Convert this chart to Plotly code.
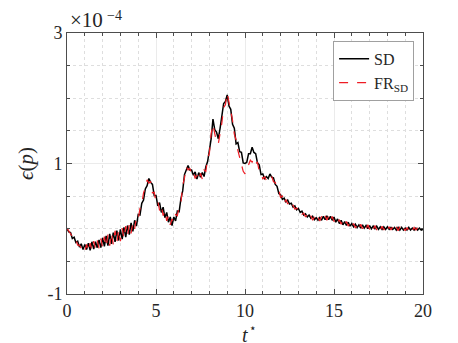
import numpy as np
import plotly.graph_objects as go

# time samples (t*), step 0.1
t = np.round(np.arange(0, 20.01, 0.1), 1)

# epsilon(p) in units of 1e-4
sd = [
    0.00, -0.05, -0.06, -0.15, -0.13, -0.21, -0.19, -0.28, -0.23, -0.32,
    -0.24, -0.32, -0.22, -0.33, -0.20, -0.31, -0.20, -0.29, -0.17, -0.29,
    -0.14, -0.27, -0.11, -0.26, -0.08, -0.23, -0.06, -0.20, -0.03, -0.18,
    -0.01, -0.16, 0.02, -0.13, 0.05, -0.09, 0.09, -0.04, 0.13, 0.04,
    0.22, 0.21, 0.39, 0.44, 0.61, 0.66, 0.77, 0.71, 0.68, 0.51,
    0.51, 0.35, 0.40, 0.25, 0.33, 0.17, 0.25, 0.10, 0.18, 0.05,
    0.18, 0.12, 0.27, 0.26, 0.46, 0.58, 0.83, 0.90, 0.97, 0.90,
    0.90, 0.82, 0.87, 0.76, 0.86, 0.79, 0.86, 0.80, 0.95, 1.03,
    1.24, 1.38, 1.68, 1.52, 1.48, 1.38, 1.54, 1.70, 1.92, 1.95,
    2.05, 1.88, 1.83, 1.60, 1.54, 1.30, 1.32, 1.18, 1.17, 1.01,
    1.00, 1.02, 1.15, 1.15, 1.25, 1.17, 1.15, 1.01, 0.98, 0.83,
    0.84, 0.77, 0.80, 0.77, 0.84, 0.79, 0.78, 0.68, 0.65, 0.54,
    0.52, 0.45, 0.47, 0.41, 0.44, 0.38, 0.39, 0.33, 0.35, 0.29,
    0.31, 0.25, 0.27, 0.21, 0.23, 0.18, 0.21, 0.16, 0.19, 0.14,
    0.17, 0.13, 0.17, 0.13, 0.19, 0.14, 0.20, 0.14, 0.19, 0.13,
    0.18, 0.10, 0.15, 0.08, 0.13, 0.06, 0.11, 0.05, 0.10, 0.04,
    0.08, 0.03, 0.07, 0.02, 0.06, 0.01, 0.06, 0.01, 0.05, 0.00,
    0.05, 0.00, 0.04, 0.00, 0.04, -0.01, 0.03, -0.01, 0.03, -0.01,
    0.03, -0.01, 0.02, -0.01, 0.02, -0.02, 0.02, -0.02, 0.02, -0.02,
    0.01, -0.02, 0.02, -0.02, 0.01, -0.02, 0.01, -0.02, 0.01, -0.02,
    -0.01,
]

fr_sd = [
    0.01, -0.03, -0.09, -0.12, -0.18, -0.17, -0.25, -0.25, -0.30, -0.27,
    -0.34, -0.24, -0.35, -0.22, -0.33, -0.19, -0.31, -0.18, -0.30, -0.15,
    -0.29, -0.12, -0.28, -0.09, -0.26, -0.06, -0.24, -0.03, -0.21, -0.01,
    -0.19, 0.01, -0.15, 0.04, -0.11, 0.07, -0.07, 0.10, 0.00, 0.18,
    0.15, 0.31, 0.38, 0.55, 0.63, 0.75, 0.70, 0.72, 0.55, 0.56,
    0.40, 0.43, 0.28, 0.36, 0.20, 0.28, 0.12, 0.20, 0.06, 0.15,
    0.10, 0.22, 0.20, 0.34, 0.40, 0.66, 0.78, 0.95, 0.90, 0.93,
    0.83, 0.87, 0.77, 0.82, 0.74, 0.85, 0.76, 0.90, 0.88, 1.08,
    1.16, 1.46, 1.60, 1.45, 1.32, 1.30, 1.45, 1.62, 1.86, 1.90,
    2.08, 1.95, 1.78, 1.66, 1.45, 1.36, 1.20, 1.10, 1.02, 0.88,
    0.84, 0.95, 0.98, 1.05, 1.02, 1.08, 1.00, 1.02, 0.88, 0.86,
    0.76, 0.80, 0.74, 0.78, 0.76, 0.80, 0.72, 0.71, 0.62, 0.60,
    0.48, 0.50, 0.38, 0.45, 0.38, 0.42, 0.34, 0.36, 0.30, 0.32,
    0.26, 0.28, 0.22, 0.24, 0.18, 0.22, 0.15, 0.20, 0.13, 0.18,
    0.12, 0.18, 0.12, 0.19, 0.13, 0.20, 0.13, 0.20, 0.12, 0.19,
    0.11, 0.16, 0.09, 0.14, 0.07, 0.12, 0.05, 0.11, 0.04, 0.09,
    0.02, 0.08, 0.01, 0.07, 0.00, 0.07, 0.00, 0.06, -0.01, 0.06,
    -0.01, 0.05, -0.01, 0.05, -0.02, 0.04, -0.02, 0.04, -0.02, 0.04,
    -0.02, 0.03, -0.02, 0.03, -0.03, 0.03, -0.03, 0.03, -0.03, 0.02,
    -0.03, 0.02, -0.03, 0.02, -0.03, 0.02, -0.02, 0.02, -0.02, 0.01,
    0.00,
]

y_tickvals = [-1, 1, 3]
y_ticktext = ["-1", "1", "3"]

font_family = "Liberation Serif"
txt = "#262626"

fig = go.Figure()
fig.add_trace(go.Scatter(x=t, y=sd, mode="lines", name="SD",
                         line=dict(color="black", width=1.5)))
fig.add_trace(go.Scatter(x=t, y=fr_sd, mode="lines", name="FR<sub>SD</sub>",
                         line=dict(color="#ee1c24", width=1.2, dash="dash")))

grid_major = "#ebebeb"
grid_minor = "#dedede"
axis_line = "#4d4d4d"

fig.update_xaxes(range=[0, 20], dtick=5, tick0=0,
                 showline=True, mirror="ticks", linecolor=axis_line, linewidth=1,
                 ticks="inside", ticklen=5, tickcolor=axis_line,
                 showgrid=True, gridcolor=grid_major, gridwidth=1,
                 zeroline=False,
                 minor=dict(dtick=1, showgrid=True, gridcolor=grid_minor,
                            griddash="dot", ticks="inside", ticklen=3,
                            tickcolor=axis_line),
                 tickfont=dict(size=18, color=txt))
fig.update_yaxes(range=[-1, 3], tickvals=y_tickvals, ticktext=y_ticktext,
                 showline=True, mirror="ticks", linecolor=axis_line, linewidth=1,
                 ticks="inside", ticklen=5, tickcolor=axis_line,
                 showgrid=True, gridcolor=grid_major, gridwidth=1,
                 zeroline=False,
                 minor=dict(tickvals=[-0.5, 0, 0.5, 1.5, 2, 2.5], showgrid=True,
                            gridcolor=grid_minor, griddash="dot", ticks="inside",
                            ticklen=3, tickcolor=axis_line),
                 tickfont=dict(size=18, color=txt),
                 title=dict(text="<i>ϵ</i>(<i>p</i>)", font=dict(size=21, color=txt),
                            standoff=8))

# x axis title: t with a star superscript
fig.add_annotation(text="<i>t</i>", xref="paper", yref="paper",
                   x=0.5, y=-0.157, xanchor="center", yanchor="middle",
                   showarrow=False, font=dict(size=20, color=txt, family=font_family))
fig.add_annotation(text="⋆", xref="paper", yref="paper",
                   x=0.5, y=-0.157, xanchor="center", yanchor="middle",
                   xshift=8, yshift=7,
                   showarrow=False, font=dict(size=12, color=txt, family=font_family))

# exponent label above the y axis
fig.add_annotation(text="×10", xref="paper", yref="paper",
                   x=0.0, y=1.0, xanchor="left", yanchor="middle", xshift=1, yshift=13,
                   showarrow=False, font=dict(size=21, color=txt, family=font_family))
fig.add_annotation(text="−4", xref="paper", yref="paper",
                   x=0.0, y=1.0, xanchor="left", yanchor="middle", xshift=38, yshift=18,
                   showarrow=False, font=dict(size=14, color=txt, family=font_family))

fig.update_layout(
    width=458, height=343,
    margin=dict(l=59, r=43, t=25, b=57),
    paper_bgcolor="white", plot_bgcolor="white",
    font=dict(family=font_family, color=txt),
    showlegend=True,
    legend=dict(x=0.975, y=0.97, xanchor="right", yanchor="top",
                bgcolor="white", bordercolor="#a0a0a0", borderwidth=1,
                font=dict(size=16, color=txt),
                tracegroupgap=0, itemwidth=30),
)

fig.write_html("out.html")
